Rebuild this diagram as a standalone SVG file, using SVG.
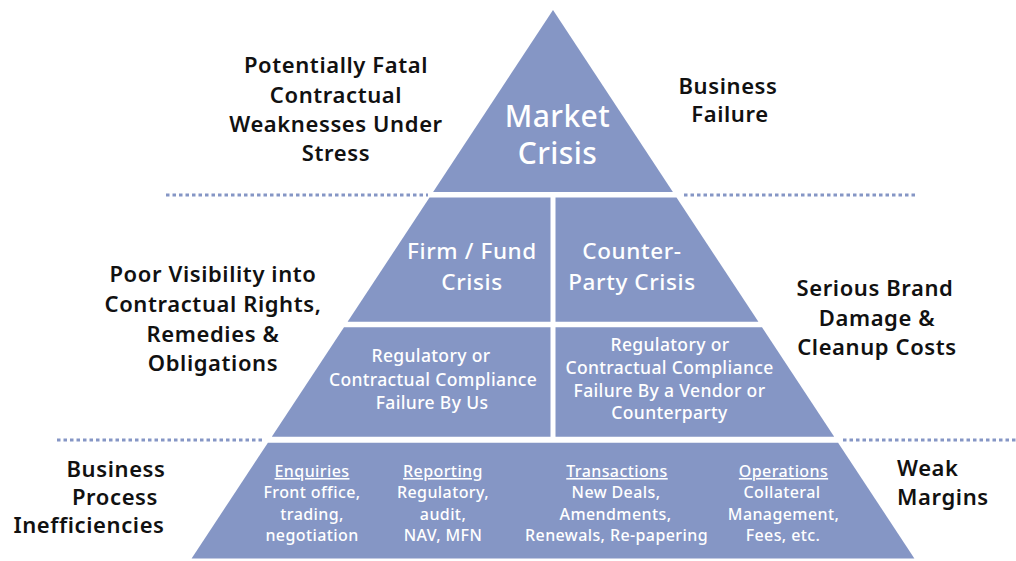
<svg xmlns="http://www.w3.org/2000/svg" width="1016" height="561" viewBox="0 0 1016 561">
<style>
  .tier { fill: #8596c5; }
  .sep { stroke: #8596c5; stroke-width: 3; stroke-dasharray: 3.5 3; fill: none; }
  text { font-family: "Noto Sans", "Open Sans", "DejaVu Sans", sans-serif; text-anchor: middle; font-weight: 550; }
  .side { fill: #111; font-size: 22px; letter-spacing: 0.6px; font-weight: 600; }
  .big { fill: #fff; font-size: 30px; letter-spacing: 0.4px; }
  .mid { fill: #fff; font-size: 22.5px; letter-spacing: 0.6px; }
  .small { fill: #fff; font-size: 17.5px; letter-spacing: 0.35px; }
  .col { fill: #fff; font-size: 16px; letter-spacing: 0.4px; }
  .u { text-decoration: underline; }
</style>
<rect width="1016" height="561" fill="#fff"/>
<g id="separators">
  <line class="sep" x1="166" y1="195" x2="428" y2="195"/>
  <line class="sep" x1="684" y1="195" x2="918" y2="195"/>
  <line class="sep" x1="57" y1="440" x2="264" y2="440"/>
  <line class="sep" x1="843" y1="440" x2="1016" y2="440"/>
</g>
<g id="market-crisis">
  <polygon class="tier" points="553,10 672.9,192 433.1,192"/>
  <text class="big" x="557.5" y="127">Market</text>
  <text class="big" x="557.5" y="164">Crisis</text>
</g>
<g id="firm-fund-crisis">
  <polygon class="tier" points="429.5,197.5 550.5,197.5 550.5,321.8 347.6,321.8"/>
  <text class="mid" x="472" y="258.5">Firm / Fund</text>
  <text class="mid" x="472" y="289.5">Crisis</text>
</g>
<g id="counterparty-crisis">
  <polygon class="tier" points="555.5,197.5 676.5,197.5 758.4,321.8 555.5,321.8"/>
  <text class="mid" x="632" y="258.5">Counter-</text>
  <text class="mid" x="632" y="289.5">Party Crisis</text>
</g>
<g id="compliance-us">
  <polygon class="tier" points="344,327.3 550.5,327.3 550.5,436.8 271.8,436.8"/>
  <text class="small" x="431" y="362">Regulatory or</text>
  <text class="small" x="433" y="386">Contractual Compliance</text>
  <text class="small" x="432" y="408.5">Failure By Us</text>
</g>
<g id="compliance-vendor">
  <polygon class="tier" points="555.5,327.3 762,327.3 834.2,436.8 555.5,436.8"/>
  <text class="small" x="670" y="351">Regulatory or</text>
  <text class="small" x="669.5" y="374">Contractual Compliance</text>
  <text class="small" x="669.5" y="397">Failure By a Vendor or</text>
  <text class="small" x="669.5" y="419">Counterparty</text>
</g>
<g id="business-process">
  <polygon class="tier" points="267.9,442.7 838.1,442.7 914.4,558.5 191.6,558.5"/>
  <text class="col u" x="312" y="477">Enquiries</text>
  <text class="col" x="312" y="498">Front office,</text>
  <text class="col" x="312" y="520">trading,</text>
  <text class="col" x="312" y="541">negotiation</text>
  <text class="col u" x="443" y="477">Reporting</text>
  <text class="col" x="443" y="498">Regulatory,</text>
  <text class="col" x="443" y="520">audit,</text>
  <text class="col" x="443" y="541">NAV, MFN</text>
  <text class="col u" x="617" y="477">Transactions</text>
  <text class="col" x="616" y="498">New Deals,</text>
  <text class="col" x="615.5" y="520">Amendments,</text>
  <text class="col" x="616.5" y="541">Renewals, Re-papering</text>
  <text class="col u" x="783.5" y="477">Operations</text>
  <text class="col" x="782" y="498">Collateral</text>
  <text class="col" x="783.5" y="520">Management,</text>
  <text class="col" x="783" y="541">Fees, etc.</text>
</g>
<g id="label-fatal">
  <text class="side" x="336" y="72.5">Potentially Fatal</text>
  <text class="side" x="336" y="102.5">Contractual</text>
  <text class="side" x="336" y="132">Weaknesses Under</text>
  <text class="side" x="336" y="161">Stress</text>
</g>
<g id="label-business-failure">
  <text class="side" x="728" y="93.5">Business</text>
  <text class="side" x="730" y="122">Failure</text>
</g>
<g id="label-poor-visibility">
  <text class="side" x="213" y="282">Poor Visibility into</text>
  <text class="side" x="213" y="312">Contractual Rights,</text>
  <text class="side" x="213" y="341.5">Remedies &amp;</text>
  <text class="side" x="213" y="370.5">Obligations</text>
</g>
<g id="label-brand-damage">
  <text class="side" x="875" y="296">Serious Brand</text>
  <text class="side" x="877" y="325.5">Damage &amp;</text>
  <text class="side" x="877" y="355">Cleanup Costs</text>
</g>
<g id="label-inefficiencies">
  <text class="side" x="116" y="476.5">Business</text>
  <text class="side" x="115" y="504.5">Process</text>
  <text class="side" x="89" y="533">Inefficiencies</text>
</g>
<g id="label-weak-margins">
  <text class="side" x="897" y="475.5" style="text-anchor:start">Weak</text>
  <text class="side" x="897" y="505" style="text-anchor:start">Margins</text>
</g>
</svg>
